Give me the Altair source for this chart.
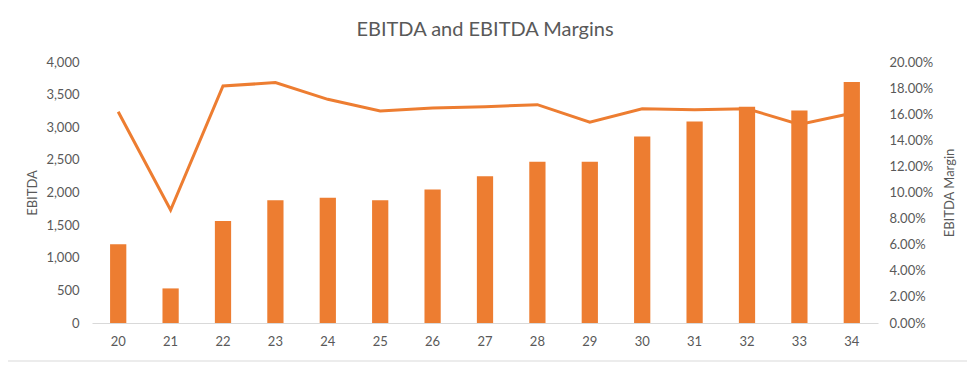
import altair as alt
import pandas as pd

years = ["20", "21", "22", "23", "24", "25", "26", "27", "28", "29", "30", "31", "32", "33", "34"]
ebitda = [1205, 530, 1565, 1880, 1920, 1880, 2045, 2250, 2470, 2470, 2860, 3090, 3315, 3255, 3695]
margin = [0.1619, 0.0866, 0.1816, 0.1842, 0.1714, 0.1625, 0.1648, 0.1657, 0.1673, 0.1538, 0.1642, 0.1635, 0.1642, 0.1522, 0.1607]

df = pd.DataFrame({"year": years, "ebitda": ebitda, "margin": margin})

ORANGE = "#ED7D31"
TXT = "#595959"
FONT = "Lato"
W, H = 786, 261

xenc = alt.X(
    "year:N",
    sort=years,
    scale=alt.Scale(paddingInner=0.69, paddingOuter=0.345),
    axis=alt.Axis(
        title=None, labelAngle=0, ticks=False, domain=True, domainColor="#D9D9D9",
        domainWidth=1, labelPadding=12, labelFontSize=13, labelColor=TXT, labelFont=FONT,
    ),
)

bars = alt.Chart(df).mark_bar(color=ORANGE).encode(
    x=xenc,
    y=alt.Y(
        "ebitda:Q",
        scale=alt.Scale(domain=[0, 4000], nice=False),
        axis=alt.Axis(
            title="EBITDA", values=list(range(0, 4001, 500)), format=",d", grid=False,
            domain=False, ticks=False, labelPadding=13, labelFontSize=13, labelColor=TXT,
            labelFont=FONT, titleFont=FONT, titleFontSize=13, titleColor=TXT,
            titleFontWeight="normal", titleAngle=-90, titleX=-60, titleY=H / 2,
            titleBaseline="middle", titleAlign="center",
        ),
    ),
)

line = alt.Chart(df).mark_line(color=ORANGE, strokeWidth=3).encode(
    x=xenc,
    y=alt.Y(
        "margin:Q",
        scale=alt.Scale(domain=[0, 0.2], nice=False),
        axis=alt.Axis(
            orient="right", title="EBITDA Margin",
            values=[0, 0.02, 0.04, 0.06, 0.08, 0.10, 0.12, 0.14, 0.16, 0.18, 0.20],
            format=".2%", grid=False, domain=False, ticks=False, labelPadding=11,
            labelFontSize=13, labelColor=TXT, labelFont=FONT, titleFont=FONT,
            titleFontSize=13, titleColor=TXT, titleFontWeight="normal", titleAngle=-90,
            titleX=71, titleY=H / 2, titleBaseline="middle", titleAlign="center",
        ),
    ),
)

# faint chart-area border at the bottom (decorative)
border = alt.Chart().mark_rule(color="#D9D9D9", strokeWidth=1).encode(
    x=alt.value(-84), x2=alt.value(880), y=alt.value(299)
)

chart = (
    alt.layer(line, bars, border)
    .resolve_scale(y="independent")
    .properties(
        width=W, height=H,
        background="white",
        title=alt.TitleParams(
            "EBITDA and EBITDA Margins", font=FONT, fontSize=20, fontWeight="normal",
            color=TXT, anchor="middle", offset=16,
        ),
        autosize=alt.AutoSizeParams(type="none"),
        padding={"left": 84, "top": 54, "right": 89, "bottom": 40},
    )
    .configure_view(strokeOpacity=0, strokeWidth=0)
)

chart.save("out.html", embed_options={"renderer": "svg", "actions": False})
